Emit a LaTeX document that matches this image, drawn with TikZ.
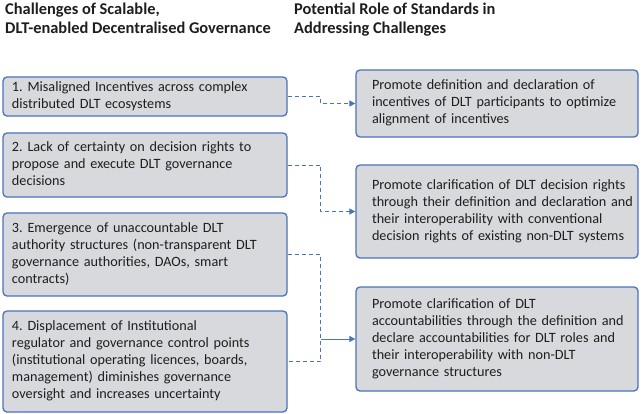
\documentclass[tikz,border=0pt]{standalone}
\usepackage{fontspec}
\setmainfont{Carlito}
\usetikzlibrary{arrows.meta}
\definecolor{boxfill}{RGB}{216,217,220}
\definecolor{boxline}{RGB}{76,114,192}
\definecolor{ink}{RGB}{30,30,30}
\newcommand\boxlines[1]{\begin{tabular}{@{}l@{}}#1\end{tabular}}
\frenchspacing
\begin{document}
\begin{tikzpicture}[x=1pt,y=-1pt,
  chal/.style={draw=boxline, fill=boxfill, text=ink, line width=1.3pt, rounded corners=4pt,
    minimum width=284pt, text width=266pt, inner xsep=9pt, inner ysep=0pt, align=left,
    font=\fontsize{14.2}{17}\selectfont},
  role/.style={draw=boxline, fill=boxfill, text=ink, line width=1.3pt, rounded corners=4pt,
    minimum width=282pt, text width=250pt, inner xsep=16pt, inner ysep=0pt, align=left,
    font=\fontsize{14.2}{17}\selectfont},
  head/.style={anchor=north west, align=left, inner sep=0pt, text=ink, font=\bfseries\fontsize{16.4}{18.5}\selectfont},
  link/.style={draw=boxline, line width=1pt, dash pattern=on 4pt off 3pt},
  tip/.style={-{Triangle[length=6pt,width=6pt]}}]
\useasboundingbox (0,0) rectangle (642,413);
\fill[white] (0,0) rectangle (642,413);

\node[head] (h1) at (5,3) {Challenges of Scalable,\\DLT-enabled Decentralised Governance};
\node[head] (h2) at (294,3) {Potential Role of Standards in\\Addressing Challenges};

\node[chal, minimum height=39pt] (b1) at (145,96.5) {\boxlines{1. Misaligned Incentives across complex\\distributed DLT ecosystems}};
\node[chal, minimum height=64pt] (b2) at (145,165) {\boxlines{2. Lack of certainty on decision rights to\\propose and execute DLT governance\\decisions}};
\node[chal, minimum height=83pt] (b3) at (145,254.5) {\boxlines{3. Emergence of unaccountable DLT\\authority structures (non-transparent DLT\\governance authorities, DAOs, smart\\contracts)}};
\node[chal, minimum height=101pt] (b4) at (145,361.5) {\boxlines{4. Displacement of Institutional\\regulator and governance control points\\(institutional operating licences, boards,\\management) diminishes governance\\oversight and increases uncertainty}};

\node[role, minimum height=67pt] (r1) at (497,103.5) {\boxlines{Promote definition and declaration of\\incentives of DLT participants to optimize\\alignment of incentives}};
\node[role, minimum height=93pt] (r2) at (497,211.5) {\boxlines{Promote clarification of DLT decision rights\\through their definition and declaration and\\their interoperability with conventional\\decision rights of existing non-DLT systems}};
\node[role, minimum height=104pt] (r3) at (497,339) {\boxlines{Promote clarification of DLT\\accountabilities through the definition and\\declare accountabilities for DLT roles and\\their interoperability with non-DLT\\governance structures}};

\coordinate (m1) at ([xshift=33pt]b1.east);
\coordinate (m2) at ([xshift=33pt]b2.east);
\coordinate (m3) at ([xshift=33pt]b3.east);

\draw[link, tip] (b1.east) -- (m1) |- (r1.west);
\draw[link, tip] (b2.east) -- (m2) |- (r2.west);
\draw[link] (b3.east) -- (m3) |- (b4.east);
\draw[draw=boxline, line width=1pt, tip] (m3 |- r3.west) -- (r3.west);
\end{tikzpicture}
\end{document}
